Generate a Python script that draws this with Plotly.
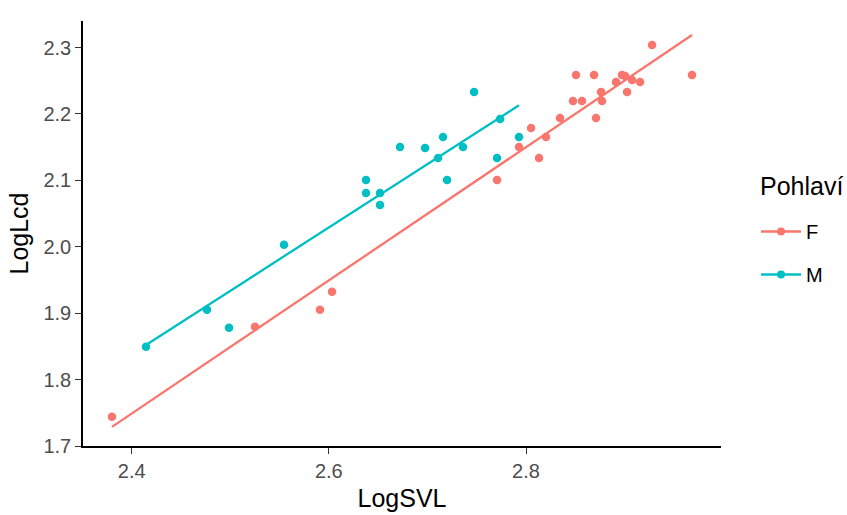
import numpy as np
import plotly.graph_objects as go

# Data
m_svl = [2.4145, 2.4764, 2.4987, 2.5545, 2.6377, 2.6377, 2.6519, 2.6519, 2.6722,
         2.6976, 2.7158, 2.7108, 2.7199, 2.7361, 2.7473, 2.7737, 2.7706, 2.7929]
m_lcd = [1.8495, 1.9051, 1.8780, 2.0029, 2.1007, 2.0811, 2.0811, 2.0631, 2.1503,
         2.1488, 2.1654, 2.1338, 2.1007, 2.1503, 2.2331, 2.1924, 2.1338, 2.1654]

f_svl = [2.3800, 2.5251, 2.5910, 2.6032, 2.7706, 2.7929, 2.8051, 2.8132, 2.8203,
         2.8345, 2.8477, 2.8568, 2.8507, 2.8690, 2.8710, 2.8761, 2.8771, 2.8913,
         2.8974, 2.9005, 2.9025, 2.9076, 2.9157, 2.9279, 2.9684]
f_lcd = [1.7442, 1.8796, 1.9051, 1.9322, 2.1007, 2.1503, 2.1789, 2.1338, 2.1654,
         2.1940, 2.2195, 2.2195, 2.2586, 2.2586, 2.1940, 2.2331, 2.2195, 2.2481,
         2.2586, 2.2571, 2.2331, 2.2511, 2.2481, 2.3038, 2.2586]

x_ticks = [2.4, 2.6, 2.8]
y_ticks = [1.7, 1.8, 1.9, 2.0, 2.1, 2.2, 2.3]

C_F = "#F8766D"
C_M = "#00BFC4"
FONT = "Liberation Sans, Arial"

fig = go.Figure()

groups = [("F", f_svl, f_lcd, C_F), ("M", m_svl, m_lcd, C_M)]
for name, xs, ys, col in groups:
    xs_a = np.array(xs)
    ys_a = np.array(ys)
    slope, icpt = np.polyfit(xs_a, ys_a, 1)
    xl = np.linspace(xs_a.min(), xs_a.max(), 80)
    fig.add_trace(go.Scatter(x=xs, y=ys, mode="markers",
                             marker=dict(color=col, size=8.5),
                             showlegend=False, hoverinfo="skip"))
    fig.add_trace(go.Scatter(x=xl, y=slope * xl + icpt, mode="lines",
                             line=dict(color=col, width=2.3),
                             showlegend=False, hoverinfo="skip"))
    fig.add_trace(go.Scatter(x=[None], y=[None], mode="lines+markers", name=name,
                             legendgroup=name,
                             line=dict(color=col, width=2.3),
                             marker=dict(color=col, size=8)))

axis_common = dict(showgrid=False, zeroline=False, showline=True,
                   linecolor="black", linewidth=1.5, ticks="outside",
                   ticklen=6, tickcolor="#333333", tickwidth=1.2,
                   tickfont=dict(family=FONT, size=20, color="#4D4D4D"),
                   mirror=False, automargin=False)

fig.update_xaxes(range=[2.3506, 2.9978], tickvals=x_ticks,
                 ticktext=[f"{v:.1f}" for v in x_ticks],
                 title=dict(text="LogSVL", font=dict(family=FONT, size=25, color="black"),
                            standoff=9),
                 **axis_common)
fig.update_yaxes(range=[1.7, 2.34], tickvals=y_ticks,
                 ticktext=[f"{v:.1f}" for v in y_ticks],
                 title=dict(text="LogLcd", font=dict(family=FONT, size=25, color="black"),
                            standoff=8),
                 **axis_common)

PL, PR, PT, PB = 83, 721, 21, 446
pw, ph = PR - PL, PB - PT

fig.add_annotation(text="Pohlaví", xref="paper", yref="paper",
                   x=(758 - PL) / pw, y=(PB - 186) / ph, xanchor="left", yanchor="middle",
                   showarrow=False, font=dict(family=FONT, size=25, color="black"))

fig.update_layout(
    width=847, height=515,
    margin=dict(l=PL, r=847 - PR, t=PT, b=515 - PB, autoexpand=False),
    plot_bgcolor="white", paper_bgcolor="white",
    legend=dict(x=(756 - PL) / pw, xanchor="left", y=(PB - 212) / ph, yanchor="top",
                font=dict(family=FONT, size=20, color="black"),
                tracegroupgap=14, itemwidth=40),
)

fig.write_html("out.html", config={"displayModeBar": False},
               post_script="document.body.style.margin='0';document.body.style.padding='0';")
